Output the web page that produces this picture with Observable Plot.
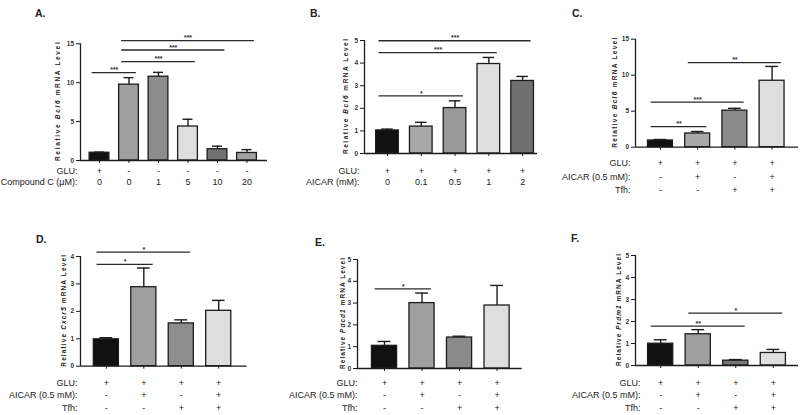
<!DOCTYPE html>
<html><head><meta charset="utf-8">
<script src="https://cdn.jsdelivr.net/npm/d3@7"></script>
<script src="https://cdn.jsdelivr.net/npm/@observablehq/plot@0.6"></script>
<style>
body{margin:0;background:#fff;}
#root{position:relative;width:800px;height:415px;overflow:hidden;font-family:"Liberation Sans",Arial,sans-serif;background:#fff;}
.panel{position:absolute;overflow:visible;}
</style></head><body><div id="root"></div>
<script>
// ---------- DATA ----------
// Panel A: Bcl6 vs Compound C
const aGene = "Bcl6";
const aGLU = ["+", "-", "-", "-", "-", "-"];
const aCompoundC = ["0", "0", "1", "5", "10", "20"];
const aMean = [1.00, 9.75, 10.77, 4.37, 1.45, 0.97];
const aSEM  = [0.07, 0.90, 0.56, 0.93, 0.39, 0.43];
const aSig = [{from: 0, to: 1, y: 11.3, label: "***"}, {from: 1, to: 3, y: 12.7, label: "***"},
              {from: 1, to: 4, y: 14.2, label: "***"}, {from: 1, to: 5, y: 15.4, label: "***"}];
const aTicks = [0, 5, 10, 15];

// Panel B: Bcl6 vs AICAR dose
const bGene = "Bcl6";
const bGLU = ["+", "+", "+", "+", "+"];
const bAICAR = ["0", "0.1", "0.5", "1", "2"];
const bMean = [1.02, 1.19, 2.01, 3.96, 3.21];
const bSEM  = [0.06, 0.19, 0.32, 0.29, 0.20];
const bSig = [{from: 0, to: 2, y: 2.55, label: "*"}, {from: 0, to: 3, y: 4.46, label: "***"},
              {from: 0, to: 4, y: 4.99, label: "***"}];
const bTicks = [0, 1, 2, 3, 4, 5];

// Shared conditions for C–F
const cdfGLU   = ["+", "+", "+", "+"];
const cdfAICAR = ["-", "+", "-", "+"];
const cdfTfh   = ["-", "-", "+", "+"];

// Panel C: Bcl6
const cGene = "Bcl6";
const cMean = [0.93, 1.90, 5.08, 9.23];
const cSEM  = [0.14, 0.28, 0.32, 1.99];
const cSig = [{from: 0, to: 1, y: 2.87, label: "**"}, {from: 0, to: 2, y: 6.25, label: "***"},
              {from: 1, to: 3, y: 11.76, label: "**"}];
const cTicks = [0, 5, 10, 15];

// Panel D: Cxcr5
const dGene = "Cxcr5";
const dMean = [0.98, 2.88, 1.56, 2.02];
const dSEM  = [0.06, 0.70, 0.13, 0.38];
const dSig = [{from: 0, to: 1, y: 3.71, label: "*"}, {from: 0, to: 2, y: 4.16, label: "*"}];
const dTicks = [0, 1, 2, 3, 4];

// Panel E: Pdcd1
const eGene = "Pdcd1";
const eMean = [1.04, 3.00, 1.42, 2.89];
const eSEM  = [0.20, 0.46, 0.06, 0.92];
const eSig = [{from: 0, to: 1, y: 3.65, label: "*"}];
const eTicks = [0, 1, 2, 3, 4, 5];

// Panel F: Prdm1
const fGene = "Prdm1";
const fMean = [0.99, 1.42, 0.22, 0.57];
const fSEM  = [0.18, 0.21, 0.05, 0.16];
const fSig = [{from: 0, to: 2, y: 1.79, label: "**"}, {from: 1, to: 3, y: 2.38, label: "*"}];
const fTicks = [0, 1, 2, 3, 4, 5];

// ---------- STYLES / LAYOUT ----------
const FONT = "'Liberation Sans', Arial, sans-serif";
const INK = "#1c1c1c";

const panels = [
  {letter: "A.", lx: 35, ly: 17, gene: aGene, mean: aMean, sem: aSEM, sig: aSig, ticks: aTicks,
   rows: [{label: "GLU:", values: aGLU}, {label: "Compound C (\u00b5M):", values: aCompoundC}],
   fills: ["#111111", "#a0a0a0", "#8c8c8c", "#dedede", "#727272", "#a0a0a0"],
   left: 0, top: 0, w: 270, h: 200, ml: 80, mr: 3, mt: 43.3, mb: 40, padL: 0.644, padR: 0.695,
   rowDy: [13, 24], headDx: -3, labOff: 19.7},
  {letter: "B.", lx: 310, ly: 17, gene: bGene, mean: bMean, sem: bSEM, sig: bSig, ticks: bTicks,
   rows: [{label: "GLU:", values: bGLU}, {label: "AICAR (mM):", values: bAICAR}],
   fills: ["#111111", "#a8a8a8", "#999999", "#e0e0e0", "#707070"],
   left: 270, top: 0, w: 270, h: 200, ml: 94, mr: 3, mt: 40, mb: 47, padL: 0.68, padR: 0.44,
   rowDy: [20, 31], headDx: -5, labOff: 16},
  {letter: "C.", lx: 572, ly: 17, gene: cGene, mean: cMean, sem: cSEM, sig: cSig, ticks: cTicks,
   rows: [{label: "GLU:", values: cdfGLU}, {label: "AICAR (0.5 mM):", values: cdfAICAR}, {label: "Tfh:", values: cdfTfh}],
   fills: ["#111111", "#a8a8a8", "#8a8a8a", "#dedede"],
   left: 540, top: 0, w: 260, h: 200, ml: 95, mr: 2, mt: 38.7, mb: 53.3, padL: 0.67, padR: 0.71,
   rowDy: [19, 32.3, 45.7], headDx: -5, labOff: 17.7},
  {letter: "D.", lx: 36, ly: 242.5, gene: dGene, mean: dMean, sem: dSEM, sig: dSig, ticks: dTicks,
   rows: [{label: "GLU:", values: cdfGLU}, {label: "AICAR (0.5 mM):", values: cdfAICAR}, {label: "Tfh:", values: cdfTfh}],
   fills: ["#111111", "#a0a0a0", "#8e8e8e", "#dedede"],
   left: 0, top: 205, w: 265, h: 210, ml: 80, mr: 18.3, mt: 51, mb: 49.3, padL: 0.69, padR: 0.76,
   rowDy: [19.7, 32, 45], headDx: -3, labOff: 14.4},
  {letter: "E.", lx: 315, ly: 245.7, gene: eGene, mean: eMean, sem: eSEM, sig: eSig, ticks: eTicks,
   rows: [{label: "GLU:", values: cdfGLU}, {label: "AICAR (0.5 mM):", values: cdfAICAR}, {label: "Tfh:", values: cdfTfh}],
   fills: ["#111111", "#a0a0a0", "#8a8a8a", "#dedede"],
   left: 270, top: 205, w: 270, h: 210, ml: 87, mr: 18.3, mt: 54, mb: 47, padL: 0.72, padR: 0.67,
   rowDy: [17.3, 29.7, 42.7], headDx: 0, labOff: 12.4},
  {letter: "F.", lx: 571, ly: 241.7, gene: fGene, mean: fMean, sem: fSEM, sig: fSig, ticks: fTicks,
   rows: [{label: "GLU:", values: cdfGLU}, {label: "AICAR (0.5 mM):", values: cdfAICAR}, {label: "Tfh:", values: cdfTfh}],
   fills: ["#111111", "#a0a0a0", "#777777", "#dedede"],
   left: 540, top: 205, w: 260, h: 210, ml: 95, mr: 2, mt: 50, mb: 50, padL: 0.67, padR: 0.67,
   rowDy: [20.3, 32.7, 45.7], headDx: 5, labOff: 14.4}
];

const root = document.getElementById("root");
const HW = 0.335;   // half bar width in category steps
const CAP = 0.17;   // half error-cap width
const EXT = 0.25;   // significance line overhang

for (const p of panels) {
  const n = p.mean.length;
  const bars = p.mean.map((m, i) => ({i, m, e: p.sem[i], fill: p.fills[i]}));
  const ymax = p.ticks[p.ticks.length - 1];
  const x0 = -p.padL;
  const marks = [
    Plot.rectY(bars, {x1: d => d.i - HW, x2: d => d.i + HW, y: "m", fill: "fill", stroke: INK, strokeWidth: 1.3}),
    Plot.ruleX(bars, {x: "i", y1: "m", y2: d => d.m + d.e, stroke: INK, strokeWidth: 1.4}),
    Plot.ruleY(bars, {x1: d => d.i - CAP, x2: d => d.i + CAP, y: d => d.m + d.e, stroke: INK, strokeWidth: 1.4}),
    Plot.ruleY([0], {stroke: INK, strokeWidth: 1.3}),
    Plot.ruleX([x0], {y1: 0, y2: ymax, stroke: INK, strokeWidth: 1.3}),
    Plot.axisY({ticks: p.ticks, tickSize: 4, tickPadding: 2.5, tickFormat: d3.format("d"), label: null,
                fontSize: 6.5, fontWeight: "bold", stroke: INK, fill: "#333"}),
    Plot.axisX({ticks: d3.range(n), tickSize: 3, tickFormat: () => "", label: null, stroke: INK}),
    Plot.ruleY(p.sig, {x1: d => d.from - EXT, x2: d => d.to + EXT, y: "y", stroke: "#2a2a2a", strokeWidth: 1.3}),
    Plot.text(p.sig, {x: d => (d.from + d.to) / 2, y: "y", text: "label", dy: -2.5, lineAnchor: "middle",
                      fontSize: 7, fontWeight: "bold", fill: "#333", letterSpacing: 1})
  ];
  p.rows.forEach((r, k) => {
    marks.push(Plot.text(r.values, {x: (d, i) => i, text: d => d, frameAnchor: "bottom", dy: p.rowDy[k],
                                    fontSize: 9, fill: "#222"}));
    marks.push(Plot.text([r.label], {text: d => d, frameAnchor: "bottom-left", dy: p.rowDy[k], dx: p.headDx,
                                     textAnchor: "end", fontSize: 9, fill: "#222"}));
  });
  const svg = Plot.plot({
    width: p.w, height: p.h,
    marginLeft: p.ml, marginRight: p.mr, marginTop: p.mt, marginBottom: p.mb,
    x: {type: "linear", domain: [x0, n - 1 + p.padR]},
    y: {domain: [0, ymax]},
    color: {type: "identity"},
    style: {fontFamily: FONT, background: "transparent", overflow: "visible"},
    marks
  });
  // rotated y-axis title with italic gene name
  const ys = svg.scale("y");
  const yTop = Math.min(...ys.range), yBot = Math.max(...ys.range);
  const cy = (yTop + yBot) / 2;
  const t = d3.select(svg).append("text")
    .attr("transform", `translate(${p.ml - p.labOff},${cy}) rotate(-90)`)
    .attr("text-anchor", "middle")
    .attr("font-size", 6.5).attr("font-weight", "bold").attr("fill", "#222")
    .attr("textLength", (yBot - yTop) + 2).attr("lengthAdjust", "spacing")
    .attr("font-family", FONT);
  t.append("tspan").text("Relative ");
  t.append("tspan").attr("font-style", "italic").text(p.gene);
  t.append("tspan").text(" mRNA Level");

  const div = document.createElement("div");
  div.className = "panel";
  div.style.left = p.left + "px";
  div.style.top = p.top + "px";
  div.appendChild(svg);
  root.appendChild(div);
}

// panel letters overlay
const over = d3.select(root).append("svg")
  .attr("width", 800).attr("height", 415)
  .style("position", "absolute").style("left", 0).style("top", 0).style("pointer-events", "none");
over.selectAll("text").data(panels).join("text")
  .attr("x", d => d.lx).attr("y", d => d.ly)
  .attr("font-family", FONT).attr("font-weight", "bold").attr("font-size", 10.5).attr("fill", "#222")
  .text(d => d.letter);
</script>
</body></html>
